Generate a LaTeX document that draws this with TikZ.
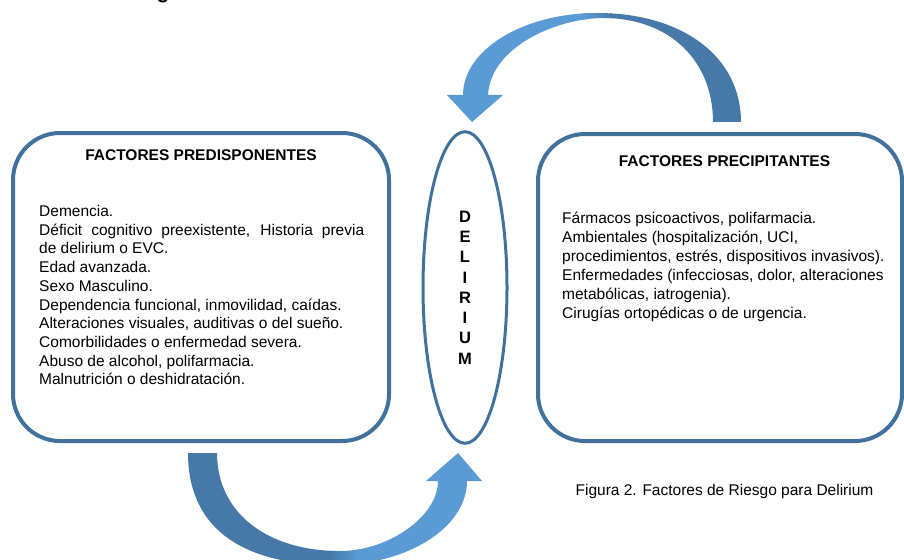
\documentclass[tikz,border=0pt]{standalone}
\usepackage{fontspec}
\setmainfont{Liberation Sans}
\usetikzlibrary{shapes.geometric}
\definecolor{boxblue}{HTML}{41719C}
\definecolor{arrlight}{HTML}{5B9BD5}
\definecolor{arrdark}{HTML}{4779A8}
\begin{document}
\begin{tikzpicture}[x=1pt,y=-1pt,
  bodytext/.style={anchor=base west, inner sep=0pt, font=\fontsize{15.5}{18.8}\selectfont},
  titletext/.style={anchor=base, inner sep=0pt, font=\fontsize{15.5}{18.8}\selectfont\bfseries},
  factorbox/.style={draw=boxblue, line width=4pt, rounded corners=47pt, inner sep=0pt, rectangle},
  toparrowpath/.style={insert path={(713,122) -- (741,122) .. controls (741,57) and (683,13) .. (597,13) .. controls (523,13) and (463,50) .. (463,95) -- (447,95) -- (472,122) -- (503,95) -- (488,95) .. controls (491,45) and (560,18) .. (603,18) .. controls (670,18) and (713,61) .. (713,122) -- cycle}},
  botarrowpath/.style={insert path={(188,453) -- (217,453) .. controls (217,512) and (266,551) .. (340,551) .. controls (389,551) and (438,516) .. (438,481) -- (426,481) -- (458,453) -- (482,481) -- (467,481) .. controls (467,527) and (408,565) .. (335,565) .. controls (239,565) and (188,526) .. (188,453) -- cycle}}]
\useasboundingbox (0,0) rectangle (904,559);

% fragment of a cut-off heading
\node[anchor=base, inner sep=0pt, font=\fontsize{21}{25}\selectfont\bfseries] (gfrag) at (163,-1.8) {g};

% boxes
\node[factorbox, minimum width=376pt, minimum height=308pt] (pred) at (201,287) {};
\node[factorbox, minimum width=364pt, minimum height=307pt] (prec) at (720,287.5) {};

% delirium ellipse
\node[ellipse, draw=boxblue, line width=3pt, minimum width=84pt, minimum height=311.6pt, inner sep=0pt, align=center, font=\fontsize{16.5}{20.3}\selectfont\bfseries] (delirium) at (465,287.5) {D\\E\\L\\I\\R\\I\\U\\M};

% top curved arrow (from precipitantes to delirium)
\begin{scope}
  \clip[toparrowpath];
  \fill[arrlight] (440,0) rectangle (590,130);
  \shade[left color=arrlight, right color=arrdark] (583,0) rectangle (612,130);
  \fill[arrdark] (610,0) rectangle (750,130);
\end{scope}

% bottom curved arrow (from predisponentes to delirium)
\begin{scope}
  \clip[botarrowpath];
  \fill[arrdark] (180,440) rectangle (333,570);
  \shade[left color=arrdark, right color=arrlight] (330,440) rectangle (358,570);
  \fill[arrlight] (356,440) rectangle (490,570);
\end{scope}

% left box text
\node[titletext] (predtitle) at (201,160.7) {FACTORES PREDISPONENTES};
\node[bodytext] (l1) at (39,216.5) {Demencia.};
\node[bodytext] (l2) at (39,235.2) {\makebox[325pt][s]{Déficit cognitivo preexistente, Historia previa}};
\node[bodytext] (l3) at (39,253.9) {de delirium o EVC.};
\node[bodytext] (l4) at (39,272.6) {Edad avanzada.};
\node[bodytext] (l5) at (39,291.3) {Sexo Masculino.};
\node[bodytext] (l6) at (39,310.0) {Dependencia funcional, inmovilidad, caídas.};
\node[bodytext] (l7) at (39,328.7) {Alteraciones visuales, auditivas o del sueño.};
\node[bodytext] (l8) at (39,347.4) {Comorbilidades o enfermedad severa.};
\node[bodytext] (l9) at (39,366.1) {Abuso de alcohol, polifarmacia.};
\node[bodytext] (l10) at (39,384.8) {Malnutrición o deshidratación.};

% right box text
\node[titletext] (prectitle) at (724.5,166.5) {FACTORES PRECIPITANTES};
\node[bodytext] (r1) at (562,223.5) {Fármacos psicoactivos, polifarmacia.};
\node[bodytext] (r2) at (562,242.4) {Ambientales (hospitalización, UCI,};
\node[bodytext] (r3) at (562,261.3) {procedimientos, estrés, dispositivos invasivos).};
\node[bodytext] (r4) at (562,280.2) {Enfermedades (infecciosas, dolor, alteraciones};
\node[bodytext] (r5) at (562,299.1) {metabólicas, iatrogenia).};
\node[bodytext] (r6) at (562,318.0) {Cirugías ortopédicas o de urgencia.};

% caption
\node[anchor=base, inner sep=0pt, font=\fontsize{15.5}{18.6}\selectfont] (caption) at (724.5,495) {Figura 2. Factores de Riesgo para Delirium};
\end{tikzpicture}
\end{document}
